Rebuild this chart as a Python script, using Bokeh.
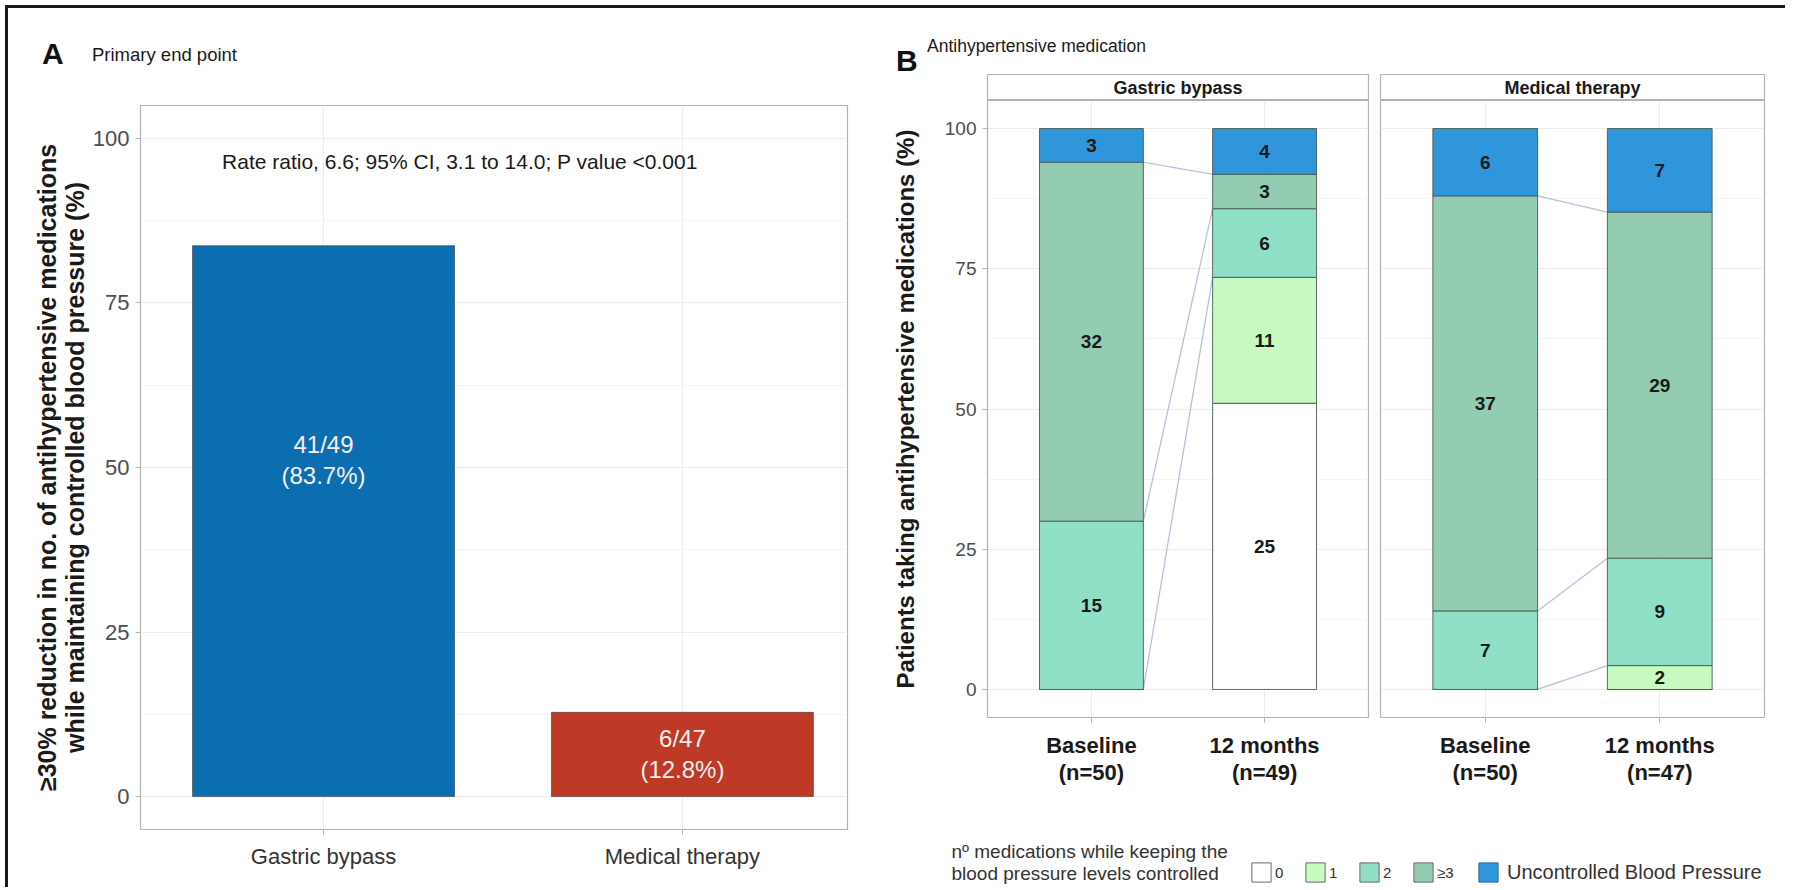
from bokeh.plotting import figure
from bokeh.models import (Range1d, Label, Legend, LegendItem, FixedTicker,
                          ColumnDataSource, Div)
from bokeh.layouts import row, column
from bokeh.embed import file_html
from bokeh.resources import INLINE
from bokeh.core.properties import value

FONT = "Liberation Sans"
NAN = float("nan")

# ---------------- Panel A data ----------------
a_title = "Primary end point"
a_groups = ["Gastric bypass", "Medical therapy"]
a_pct = [83.7, 12.8]
a_labels = ["41/49\n(83.7%)", "6/47\n(12.8%)"]
a_label_y = [51.2, 6.5]
a_colors = ["#0A6EB0", "#BE3A26"]
a_note = "Rate ratio, 6.6; 95% CI, 3.1 to 14.0; P value <0.001"
a_ylabel = "\u226530% reduction in no. of antihypertensive medications\nwhile maintaining controlled blood pressure (%)"

# ---------------- Panel B data ----------------
b_title = "Antihypertensive medication"
b_facets = ["Gastric bypass", "Medical therapy"]
b_times = ["Baseline", "12 months"]
b_n = {"Gastric bypass": [50, 49], "Medical therapy": [50, 47]}
b_categories = ["0", "1", "2", "\u22653", "Uncontrolled Blood Pressure"]
b_colors = ["#FFFFFF", "#C6FAC0", "#90E0C8", "#94CCB2", "#3096DC"]
gastric_baseline = [0, 0, 15, 32, 3]
gastric_12m = [25, 11, 6, 3, 4]
medical_baseline = [0, 0, 7, 37, 6]
medical_12m = [0, 2, 9, 29, 7]
b_counts = {"Gastric bypass": [gastric_baseline, gastric_12m],
            "Medical therapy": [medical_baseline, medical_12m]}
b_ylabel = "Patients taking antihypertensive medications (%)"
legend_title = "n\u00ba medications while keeping the\nblood pressure levels controlled"

y_ticks = [0, 25, 50, 75, 100]
y_minor = [12.5, 37.5, 62.5, 87.5]


def style_common(p):
    p.outline_line_color = "#b3b3b3"
    p.outline_line_width = 1.2
    for ax in (p.xaxis, p.yaxis):
        ax.axis_line_color = None
        ax.major_tick_line_color = "#b3b3b3"
        ax.major_tick_in = 0
        ax.major_tick_out = 5
        ax.minor_tick_line_color = None
    p.ygrid.grid_line_color = "#ececec"
    p.ygrid.minor_grid_line_color = "#f5f5f5"
    p.xgrid.grid_line_color = "#ececec"
    p.background_fill_color = "white"
    p.border_fill_color = "white"


def header(letter, text, width, height, lx, ly, tx, ty, tsize):
    html = (
        '<div style="position:relative;width:%dpx;height:%dpx;font-family:\'Liberation Sans\';color:#111;">'
        '<span style="position:absolute;left:%dpx;top:%dpx;font-size:30px;font-weight:bold;line-height:24px;">%s</span>'
        '<span style="position:absolute;left:%dpx;top:%dpx;font-size:%spx;line-height:20px;color:#1a1a1a;">%s</span>'
        '</div>' % (width, height, lx, ly, letter, tx, ty, tsize, text))
    return Div(text=html, width=width, height=height, margin=0)


# ================= Panel A =================
divA = header("A", a_title, 870, 63, 34, 34, 84, 37, "18.5")
pA = figure(width=870, height=811, x_range=Range1d(0.49, 2.46), y_range=Range1d(-5, 105),
            output_backend="svg", toolbar_location=None,
            min_border_left=132, min_border_right=31, min_border_top=34, min_border_bottom=53)
style_common(pA)
srcA = ColumnDataSource(dict(x=[1, 2], top=a_pct, color=a_colors, label=a_labels, ly=a_label_y))
pA.vbar(x="x", top="top", bottom=0, width=0.73, fill_color="color", line_color="#3a3a3a",
        line_width=0.6, source=srcA)
pA.text(x="x", y="ly", text="label", source=srcA, text_align="center", text_baseline="middle",
        text_color="#f6eeee", text_font=value(FONT), text_font_size="24px", text_line_height=1.15)
pA.xaxis.ticker = FixedTicker(ticks=[1, 2])
pA.xaxis.major_label_overrides = {1: a_groups[0], 2: a_groups[1]}
pA.xaxis.major_label_text_font = FONT
pA.xaxis.major_label_text_font_size = "22px"
pA.xaxis.major_label_text_color = "#333333"
pA.xaxis.major_label_standoff = 9
pA.yaxis.ticker = FixedTicker(ticks=y_ticks, minor_ticks=y_minor)
pA.yaxis.major_label_text_font = FONT
pA.yaxis.major_label_text_font_size = "22px"
pA.yaxis.major_label_text_color = "#4d4d4d"
pA.yaxis.major_label_standoff = 6
pA.yaxis.axis_label = a_ylabel
pA.yaxis.axis_label_text_font = FONT
pA.yaxis.axis_label_text_font_size = "25px"
pA.yaxis.axis_label_text_font_style = "bold"
pA.yaxis.axis_label_text_color = "#1a1a1a"
pA.yaxis.axis_label_text_line_height = 0.98
pA.yaxis.axis_label_standoff = 1
pA.add_layout(Label(x=1.38, y=96.5, text=a_note, text_align="center", text_baseline="middle",
                    text_font=FONT, text_font_size="21px", text_color="#1a1a1a"))


# ================= Panel B =================
BAR_W = 0.6


def strip(name, width, mbl, mbr):
    s = figure(width=width, height=26, x_range=Range1d(0, 1), y_range=Range1d(0, 1),
               output_backend="svg", toolbar_location=None,
               min_border_left=mbl, min_border_right=mbr, min_border_top=0, min_border_bottom=0)
    s.axis.visible = False
    s.grid.visible = False
    s.outline_line_color = "#b3b3b3"
    s.outline_line_width = 1.2
    s.add_layout(Label(x=0.5, y=0.5, text=name, text_align="center", text_baseline="middle",
                       text_font=FONT, text_font_size="18px", text_font_style="bold",
                       text_color="#1a1a1a"))
    return s


def facet(name, show_y, width, mbl, mbr):
    p = figure(width=width, height=700, x_range=Range1d(0.4, 2.6), y_range=Range1d(-5, 105),
               output_backend="svg", toolbar_location=None,
               min_border_left=mbl, min_border_right=mbr, min_border_top=0, min_border_bottom=83)
    style_common(p)
    counts = b_counts[name]
    ns = b_n[name]
    xs, bots, tops, cols, labs, lys = [], [], [], [], [], []
    cum = []
    for ti in range(2):
        c = 0.0
        tops_t = []
        for k, cnt in enumerate(counts[ti]):
            pct = cnt / ns[ti] * 100.0
            xs.append(ti + 1)
            bots.append(c)
            tops.append(c + pct)
            cols.append(b_colors[k])
            labs.append(str(cnt) if cnt > 0 else "")
            lys.append(c + pct / 2)
            c += pct
            tops_t.append(c)
        cum.append(tops_t)
    src = ColumnDataSource(dict(x=xs, bottom=bots, top=tops, color=cols, label=labs, ly=lys))
    ks = [1, 2, 3]  # top of categories 1, 2, >=3
    p.segment(x0=[1 + BAR_W / 2] * len(ks), y0=[cum[0][k] for k in ks],
              x1=[2 - BAR_W / 2] * len(ks), y1=[cum[1][k] for k in ks],
              line_color="#b4c3dc", line_width=1.3)
    p.vbar(x="x", bottom="bottom", top="top", width=BAR_W, fill_color="color",
           line_color="#4a5a55", line_width=0.9, source=src)
    p.text(x="x", y="ly", text="label", source=src, text_align="center", text_baseline="middle",
           text_color="#1a1a1a", text_font=value(FONT), text_font_size="19px",
           text_font_style="bold")
    p.xaxis.ticker = FixedTicker(ticks=[1, 2])
    p.xaxis.major_label_overrides = {1: "%s\n(n=%d)" % (b_times[0], ns[0]),
                                     2: "%s\n(n=%d)" % (b_times[1], ns[1])}
    p.xaxis.major_label_text_font = FONT
    p.xaxis.major_label_text_font_size = "22px"
    p.xaxis.major_label_text_font_style = "bold"
    p.xaxis.major_label_text_color = "#1a1a1a"
    p.xaxis.major_label_text_line_height = 1.1
    p.xaxis.major_label_standoff = 10
    p.yaxis.ticker = FixedTicker(ticks=y_ticks, minor_ticks=y_minor)
    p.yaxis.major_label_text_font = FONT
    p.yaxis.major_label_text_font_size = "19px"
    p.yaxis.major_label_text_color = "#4d4d4d"
    p.yaxis.major_label_standoff = 6
    if show_y:
        p.yaxis.axis_label = b_ylabel
        p.yaxis.axis_label_text_font = FONT
        p.yaxis.axis_label_text_font_size = "24px"
        p.yaxis.axis_label_text_font_style = "bold"
        p.yaxis.axis_label_text_color = "#1a1a1a"
        p.yaxis.axis_label_standoff = 23
    else:
        p.yaxis.visible = False
    return p


divB = header("B", b_title, 907, 66, 18, 41, 49, 28, "17.5")
sB1 = strip("Gastric bypass", 496, 109, 6)
sB2 = strip("Medical therapy", 411, 6, 21)
pB1 = facet("Gastric bypass", True, 496, 109, 6)
pB2 = facet("Medical therapy", False, 411, 6, 21)

# ================= Legend figure =================
pL = figure(width=907, height=87, x_range=Range1d(0, 1), y_range=Range1d(0, 1),
            output_backend="svg", toolbar_location=None,
            min_border_left=0, min_border_right=0, min_border_top=0, min_border_bottom=0)
pL.axis.visible = False
pL.grid.visible = False
pL.outline_line_color = None
items1 = []
for k in range(4):
    r = pL.quad(left=[NAN], right=[NAN], top=[NAN], bottom=[NAN],
                fill_color=b_colors[k], line_color="#6a6a6a", line_width=1)
    items1.append(LegendItem(label=b_categories[k], renderers=[r]))
r5 = pL.quad(left=[NAN], right=[NAN], top=[NAN], bottom=[NAN],
             fill_color=b_colors[4], line_color="#2a6a9a", line_width=1)
leg1 = Legend(items=items1, orientation="horizontal", location=(371, 3),
              glyph_width=24, glyph_height=24, label_standoff=2, spacing=8, padding=0,
              margin=0, border_line_color=None, background_fill_alpha=0,
              label_text_font=FONT, label_text_font_size="15px", label_text_color="#333333",
              label_height=24, label_text_baseline="bottom")
leg2 = Legend(items=[LegendItem(label=b_categories[4], renderers=[r5])], orientation="horizontal",
              location=(598, 3), glyph_width=24, glyph_height=24, label_standoff=7,
              padding=0, margin=0, border_line_color=None, background_fill_alpha=0,
              label_text_font=FONT, label_text_font_size="20px", label_text_color="#333333",
              label_height=24)
pL.add_layout(leg1, "center")
pL.add_layout(leg2, "center")
pL.add_layout(Label(x=73, y=25, x_units="screen", y_units="screen", text=legend_title,
                    text_font=FONT, text_font_size="19px", text_baseline="middle",
                    text_color="#333333", text_line_height=1.05))

left_col = column(divA, pA, spacing=0)
right_col = column(divB, row(column(sB1, pB1, spacing=0), column(sB2, pB2, spacing=0), spacing=0),
                   pL, spacing=0)
layout = row(left_col, right_col, spacing=0,
             styles={"margin-top": "5px", "margin-left": "5px",
                     "border-top": "3px solid #1a1a1a", "border-left": "3px solid #1a1a1a"})

open("out.html", "w").write(file_html(layout, INLINE))
